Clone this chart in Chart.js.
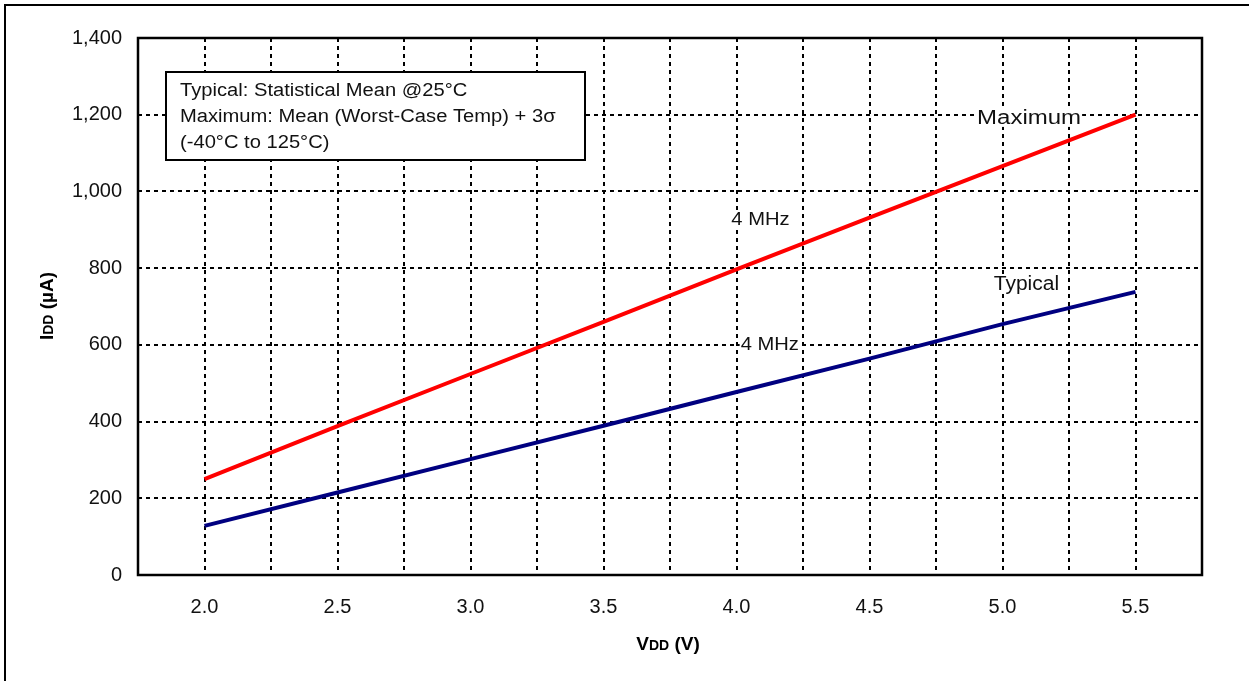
<!DOCTYPE html>
<html>
<head>
<meta charset="utf-8">
<script src="https://cdn.jsdelivr.net/npm/chart.js@4/dist/chart.umd.min.js"></script>
<style>
html,body{margin:0;padding:0;background:#fff;}
#wrap{width:1249px;height:681px;position:relative;}
</style>
</head>
<body>
<div id="wrap"><canvas id="c" width="1249" height="681"></canvas></div>
<script>
// ---- data ----
const voltage = [2.0, 2.5, 3.0, 3.5, 4.0, 4.5, 5.0, 5.5];
const maximumIdd = [250, 388, 524, 660, 797, 932, 1066, 1200];
const typicalIdd = [128, 215, 302, 389, 477, 564, 654, 738];
const xTickLabels = ['2.0', '2.5', '3.0', '3.5', '4.0', '4.5', '5.0', '5.5'];
const yTickLabels = ['0', '200', '400', '600', '800', '1,000', '1,200', '1,400'];
const noteLines = ['Typical: Statistical Mean @25\u00B0C', 'Maximum: Mean (Worst-Case Temp) + 3\u03C3', '(-40\u00B0C to 125\u00B0C)'];
const seriesLabels = ['Maximum', 'Typical'];
const freqLabel = '4 MHz';

const FONT = '"Liberation Sans", Arial, sans-serif';

const toXY = (ys) => voltage.map((v, i) => ({x: v, y: ys[i]}));

function drawLabel(ctx, text, cx, by, size, sx) {
  ctx.save();
  ctx.font = size + 'px ' + FONT;
  const w = ctx.measureText(text).width * sx;
  ctx.fillStyle = '#fff';
  ctx.fillRect(cx - w / 2 - 1, by - size * 0.8, w + 2, size * 0.95);
  ctx.fillStyle = '#111';
  ctx.textAlign = 'center';
  ctx.textBaseline = 'alphabetic';
  ctx.translate(cx, by);
  ctx.scale(sx, 1);
  ctx.fillText(text, 0, 0);
  ctx.restore();
}

const decor = {
  id: 'decor',
  beforeDatasetsDraw(chart) {
    const ctx = chart.ctx;
    const xs = chart.scales.x, ys = chart.scales.y;
    drawLabel(ctx, seriesLabels[0], xs.getPixelForValue(5.1), ys.getPixelForValue(1176), 20, 1.2);
    drawLabel(ctx, seriesLabels[1], xs.getPixelForValue(5.09), ys.getPixelForValue(742), 20, 1.05);
    drawLabel(ctx, freqLabel, xs.getPixelForValue(4.09), ys.getPixelForValue(912), 18, 1.12);
    drawLabel(ctx, freqLabel, xs.getPixelForValue(4.125), ys.getPixelForValue(586), 18, 1.12);
  },
  afterDatasetsDraw(chart) {
    const ctx = chart.ctx;
    const a = chart.chartArea;
    ctx.save();
    // plot border
    ctx.strokeStyle = '#000';
    ctx.lineWidth = 2.5;
    ctx.setLineDash([]);
    ctx.strokeRect(a.left, a.top, a.right - a.left, a.bottom - a.top);
    // outer frame (top + left)
    ctx.lineWidth = 2;
    ctx.beginPath();
    ctx.moveTo(5, 681); ctx.lineTo(5, 5); ctx.lineTo(1249, 5);
    ctx.stroke();
    // note box
    ctx.fillStyle = '#fff';
    ctx.fillRect(166, 72, 419, 88);
    ctx.lineWidth = 2;
    ctx.strokeRect(166, 72, 419, 88);
    ctx.fillStyle = '#111';
    ctx.font = '18px ' + FONT;
    ctx.textAlign = 'left';
    ctx.textBaseline = 'alphabetic';
    noteLines.forEach((t, i) => {
      ctx.save();
      ctx.translate(180, 96 + i * 26);
      ctx.scale(1.12, 1);
      ctx.fillText(t, 0, 0);
      ctx.restore();
    });
    // axis titles with small-caps subscripts
    const drawMixed = (parts, cx, cy, rot) => {
      ctx.save();
      ctx.translate(cx, cy);
      if (rot) ctx.rotate(rot);
      let total = 0;
      parts.forEach(p => { ctx.font = 'bold ' + p[1] + 'px ' + FONT; total += ctx.measureText(p[0]).width; });
      let x = -total / 2;
      ctx.textAlign = 'left';
      ctx.textBaseline = 'alphabetic';
      ctx.fillStyle = '#000';
      parts.forEach(p => {
        ctx.font = 'bold ' + p[1] + 'px ' + FONT;
        ctx.fillText(p[0], x, 7);
        x += ctx.measureText(p[0]).width;
      });
      ctx.restore();
    };
    drawMixed([['V', 19], ['DD', 14], [' (V)', 19]], 668, 643, 0);
    drawMixed([['I', 19], ['DD', 14], [' (', 19], ['\u00B5', 19], ['A)', 19]], 46, 306, -Math.PI / 2);
    ctx.restore();
  }
};

new Chart(document.getElementById('c'), {
  type: 'line',
  data: {
    datasets: [
      { label: seriesLabels[0], data: toXY(maximumIdd), borderColor: '#FF0000', borderWidth: 4, pointRadius: 0, tension: 0, fill: false },
      { label: seriesLabels[1], data: toXY(typicalIdd), borderColor: '#000080', borderWidth: 4, pointRadius: 0, tension: 0, fill: false }
    ]
  },
  options: {
    responsive: false,
    animation: false,
    events: [],
    layout: { padding: { left: 0, top: 38, right: 47, bottom: 0 } },
    plugins: { legend: { display: false }, tooltip: { enabled: false } },
    scales: {
      x: {
        type: 'linear', min: 1.75, max: 5.75,
        afterFit(s) { s.height = 106; },
        afterBuildTicks(s) {
          const t = [];
          for (let i = 0; i <= 16; i++) t.push({ value: 1.75 + i * 0.25 });
          s.ticks = t;
        },
        ticks: {
          autoSkip: false, maxRotation: 0, padding: 20, color: '#111',
          font: { family: FONT, size: 20 },
          callback(v) { const idx = voltage.indexOf(Math.round(v * 100) / 100); return idx >= 0 ? xTickLabels[idx] : ''; }
        },
        grid: { color: '#000', lineWidth: 2, drawTicks: false },
        border: { display: false, dash: [4, 4] }
      },
      y: {
        min: 0, max: 1400,
        afterFit(s) { s.width = 138; },
        ticks: {
          stepSize: 200, padding: 16, color: '#111',
          font: { family: FONT, size: 20 },
          callback(v) { return yTickLabels[Math.round(v / 200)]; }
        },
        grid: { color: '#000', lineWidth: 2, drawTicks: false },
        border: { display: false, dash: [4, 4] }
      }
    }
  },
  plugins: [decor]
});
</script>
</body>
</html>
